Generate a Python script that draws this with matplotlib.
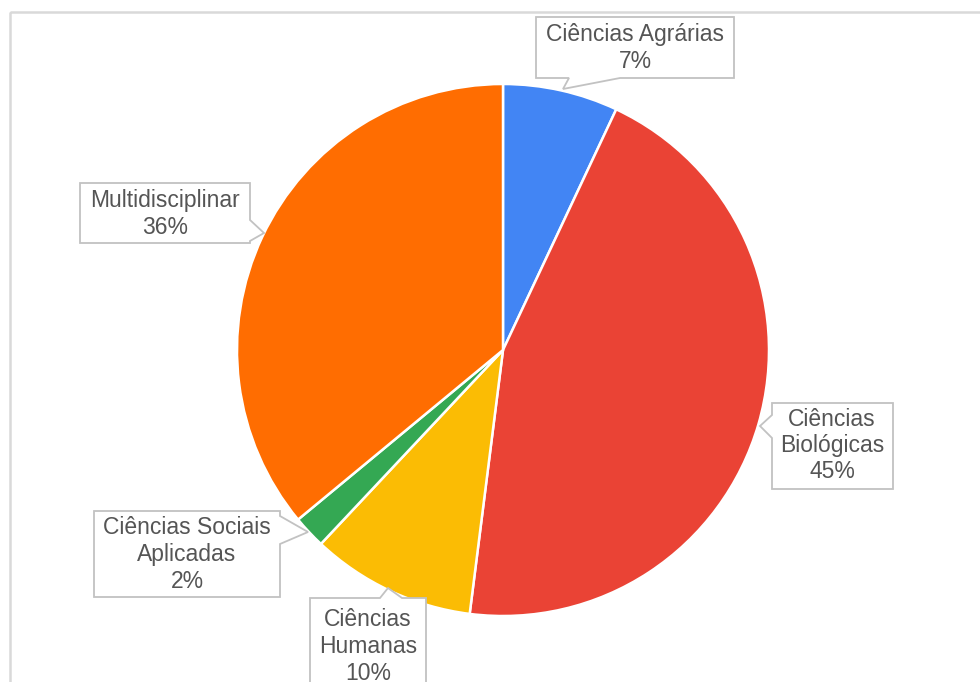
import matplotlib.pyplot as plt
from matplotlib.patches import Polygon, Rectangle

plt.rcParams['font.family'] = ['Liberation Sans', 'DejaVu Sans']

areas = ['Ciências Agrárias', 'Ciências Biológicas', 'Ciências Humanas',
         'Ciências Sociais Aplicadas', 'Multidisciplinar']
percentuais = [7, 45, 10, 2, 36]
cores = ['#4285F4', '#EA4335', '#FBBC04', '#34A853', '#FF6D01']

# linhas de texto de cada caixa (o último item é o percentual)
linhas = [['Ciências Agrárias'], ['Ciências', 'Biológicas'], ['Ciências', 'Humanas'],
          ['Ciências Sociais', 'Aplicadas'], ['Multidisciplinar']]

# caixas: (x0, y0, x1, y1), contorno da ponta, centro do texto, y da primeira linha
caixas = [
    ((536, 17, 734, 78), [(620, 78), (563, 89), (569, 78)], 635, 35),
    ((772, 403, 893, 489), [(772, 415), (760, 426), (772, 438)], 832, 419),
    ((310, 598, 426, 700), [(380, 598), (388, 588), (402, 598)], 368, 620),
    ((94, 511, 280, 597), [(280, 516), (308, 532), (280, 544)], 187, 528),
    ((80, 183, 250, 243), [(250, 220), (264, 233), (250, 241)], 165, 201),
]

fig = plt.figure(figsize=(9.8, 6.82), dpi=100)
ax = fig.add_axes([0, 0, 1, 1])

ax.pie(percentuais, colors=cores, startangle=-90, counterclock=True,
       center=(503, 350), radius=266,
       wedgeprops=dict(edgecolor='white', linewidth=1.8))

ax.set_xlim(0, 980)
ax.set_ylim(682, 0)
ax.set_aspect('auto')
ax.axis('off')

# moldura cinza do gráfico
ax.add_patch(Rectangle((10, 12), 1000, 700, fill=False, edgecolor='#d9d9d9', linewidth=1.8))


def contorno(caixa, ponta):
    x0, y0, x1, y1 = caixa
    pts = [(x0, y0), (x1, y0), (x1, y1), (x0, y1)]
    px, py = ponta[1]
    if py < y0:        # ponta em cima
        return [(x0, y0)] + ponta + [(x1, y0), (x1, y1), (x0, y1)]
    if py > y1:        # ponta embaixo
        return [(x0, y0), (x1, y0), (x1, y1)] + ponta + [(x0, y1)]
    if px < x0:        # ponta à esquerda
        return [(x0, y0), (x1, y0), (x1, y1), (x0, y1)] + ponta[::-1]
    if px > x1:        # ponta à direita
        return [(x0, y0), (x1, y0)] + ponta + [(x1, y1), (x0, y1)]
    return pts


for area, pct, lin, (caixa, ponta, cx, ty) in zip(areas, percentuais, linhas, caixas):
    ax.add_patch(Polygon(contorno(caixa, ponta), closed=True, facecolor='white',
                         edgecolor='#c2c2c2', linewidth=1.3, zorder=3))
    textos = lin + [f'{pct}%']
    for i, t in enumerate(textos):
        ax.text(cx, ty + i * 26.5, t, ha='center', va='center', fontsize=16.5,
                color='#555555', zorder=4)

fig.savefig('out.png', dpi=100, facecolor='white')
